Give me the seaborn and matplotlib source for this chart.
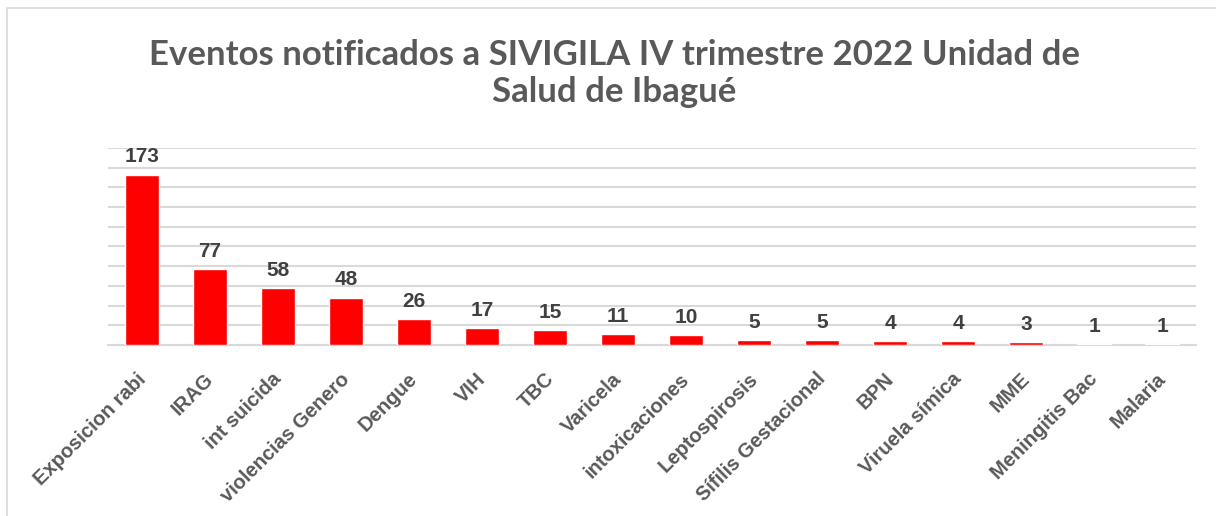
import matplotlib
matplotlib.use("Agg")
import matplotlib.pyplot as plt
import matplotlib.transforms as mtransforms
import seaborn as sns
import pandas as pd
from matplotlib.patches import Rectangle

categories = ["Exposicion rabi", "IRAG", "int suicida", "violencias Genero", "Dengue",
              "VIH", "TBC", "Varicela", "intoxicaciones", "Leptospirosis",
              "Sífilis Gestacional", "BPN", "Viruela símica", "MME", "Meningitis Bac", "Malaria"]
values = [173, 77, 58, 48, 26, 17, 15, 11, 10, 5, 5, 4, 4, 3, 1, 1]
title = "Eventos notificados a SIVIGILA IV trimestre 2022 Unidad de\nSalud de Ibagué"

sns.set_style("white")
plt.rcParams['font.family'] = ['Liberation Sans', 'DejaVu Sans']

df = pd.DataFrame({"evento": categories, "casos": values})

fig = plt.figure(figsize=(12.16, 5.16), dpi=100)
ax = fig.add_axes([0.0888, 0.3314, 0.8948, 0.3818])

sns.barplot(data=df, x="evento", y="casos", color="#ff0000", saturation=1,
            width=0.5, ax=ax, zorder=3)

ax.set_ylim(0, 200)
ax.set_xlim(-0.5, len(categories) - 0.5)
ax.set_yticks(range(0, 201, 20))
ax.set_yticklabels([])
ax.tick_params(axis='y', length=0)
ax.tick_params(axis='x', length=0, pad=14)
ax.yaxis.grid(True, color="#d9d9d9", linewidth=1.5, zorder=0)
ax.set_axisbelow(True)
for s in ["top", "right", "left"]:
    ax.spines[s].set_visible(False)
ax.spines["bottom"].set_color("#d9d9d9")
ax.spines["bottom"].set_linewidth(1.5)
ax.set_xlabel("")
ax.set_ylabel("")

ax.set_xticks(range(len(categories)))
ax.set_xticklabels(categories, rotation=45, ha="right", rotation_mode="anchor",
                   fontsize=14.5, fontweight="bold", color="#595959")
offset = mtransforms.ScaledTranslation(-6 / 100, -5 / 100, fig.dpi_scale_trans)
for lbl in ax.get_xticklabels():
    lbl.set_transform(lbl.get_transform() + offset)

for container in ax.containers:
    ax.bar_label(container, padding=6, fontsize=15, fontweight="bold", color="#404040")

fig.text(0.505, 0.925, title, ha="center", va="top", fontsize=25, fontweight="bold",
         color="#595959", linespacing=1.2, family=["Lato", "DejaVu Sans"])

fig.patches.append(Rectangle((7 / 1216, -0.1), 1.2, 1 - 8 / 516 + 0.1,
                             transform=fig.transFigure, fill=False,
                             edgecolor="#d9d9d9", linewidth=1.2))

fig.savefig("out.png", dpi=100)
